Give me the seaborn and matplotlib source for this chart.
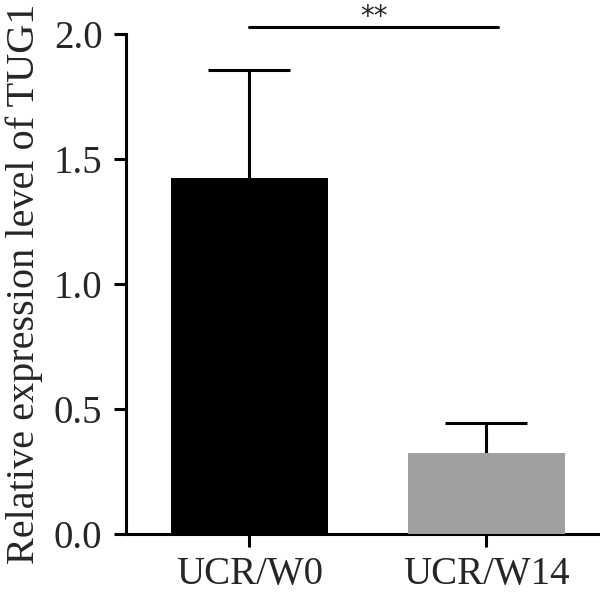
import numpy as np
import pandas as pd
import matplotlib
matplotlib.use("Agg")
import matplotlib.pyplot as plt
import seaborn as sns

groups = ["UCR/W0", "UCR/W14"]
means = [1.424, 0.324]
errs = [0.432, 0.120]
colors = ["#000000", "#a0a0a2"]

sns.set_style("ticks")
plt.rcParams['font.family'] = ['Liberation Serif', 'DejaVu Serif']

df = pd.DataFrame({"group": groups, "value": means})

fig = plt.figure(figsize=(6, 5.92), dpi=100)
ax = fig.add_axes([126 / 600, 58 / 592, 474 / 600, 500 / 592])

sns.barplot(data=df, x="group", y="value", hue="group", palette=colors,
            width=0.66, errorbar=None, legend=False, ax=ax,
            edgecolor="none")
for b in ax.patches:
    b.set_zorder(3)

# upper-only error bars
x = np.arange(len(groups))
tops = np.array(means) + np.array(errs)
ax.vlines(x, means, tops, color="black", lw=2.2, zorder=2)
ax.hlines(tops, x - 0.173, x + 0.173, color="black", lw=2.2, zorder=2)

ax.set_xlim(-0.521, 1.479)
ax.set_ylim(0, 2.0)
ax.set_yticks([0.0, 0.5, 1.0, 1.5, 2.0])
ax.set_yticklabels(["0.0", "0.5", "1.0", "1.5", "2.0"])
ax.set_xlabel("")
ax.set_ylabel("Relative expression level of TUG1", fontsize=29, labelpad=8)
ax.tick_params(axis="both", labelsize=28, width=2.2, length=9, color="black")
ax.tick_params(axis="y", pad=8)
ax.tick_params(axis="x", pad=7)
for s in ["top", "right"]:
    ax.spines[s].set_visible(False)
for s in ["left", "bottom"]:
    ax.spines[s].set_linewidth(2.2)
    ax.spines[s].set_color("black")

# significance bracket
ax.plot([0, 1.05], [2.03, 2.03], color="black", lw=2.2, clip_on=False)
ax.text(0.527, 2.068, "**", ha="center", va="center", fontsize=20,
        family="DejaVu Sans", clip_on=False)

fig.savefig("out.png", dpi=100)
